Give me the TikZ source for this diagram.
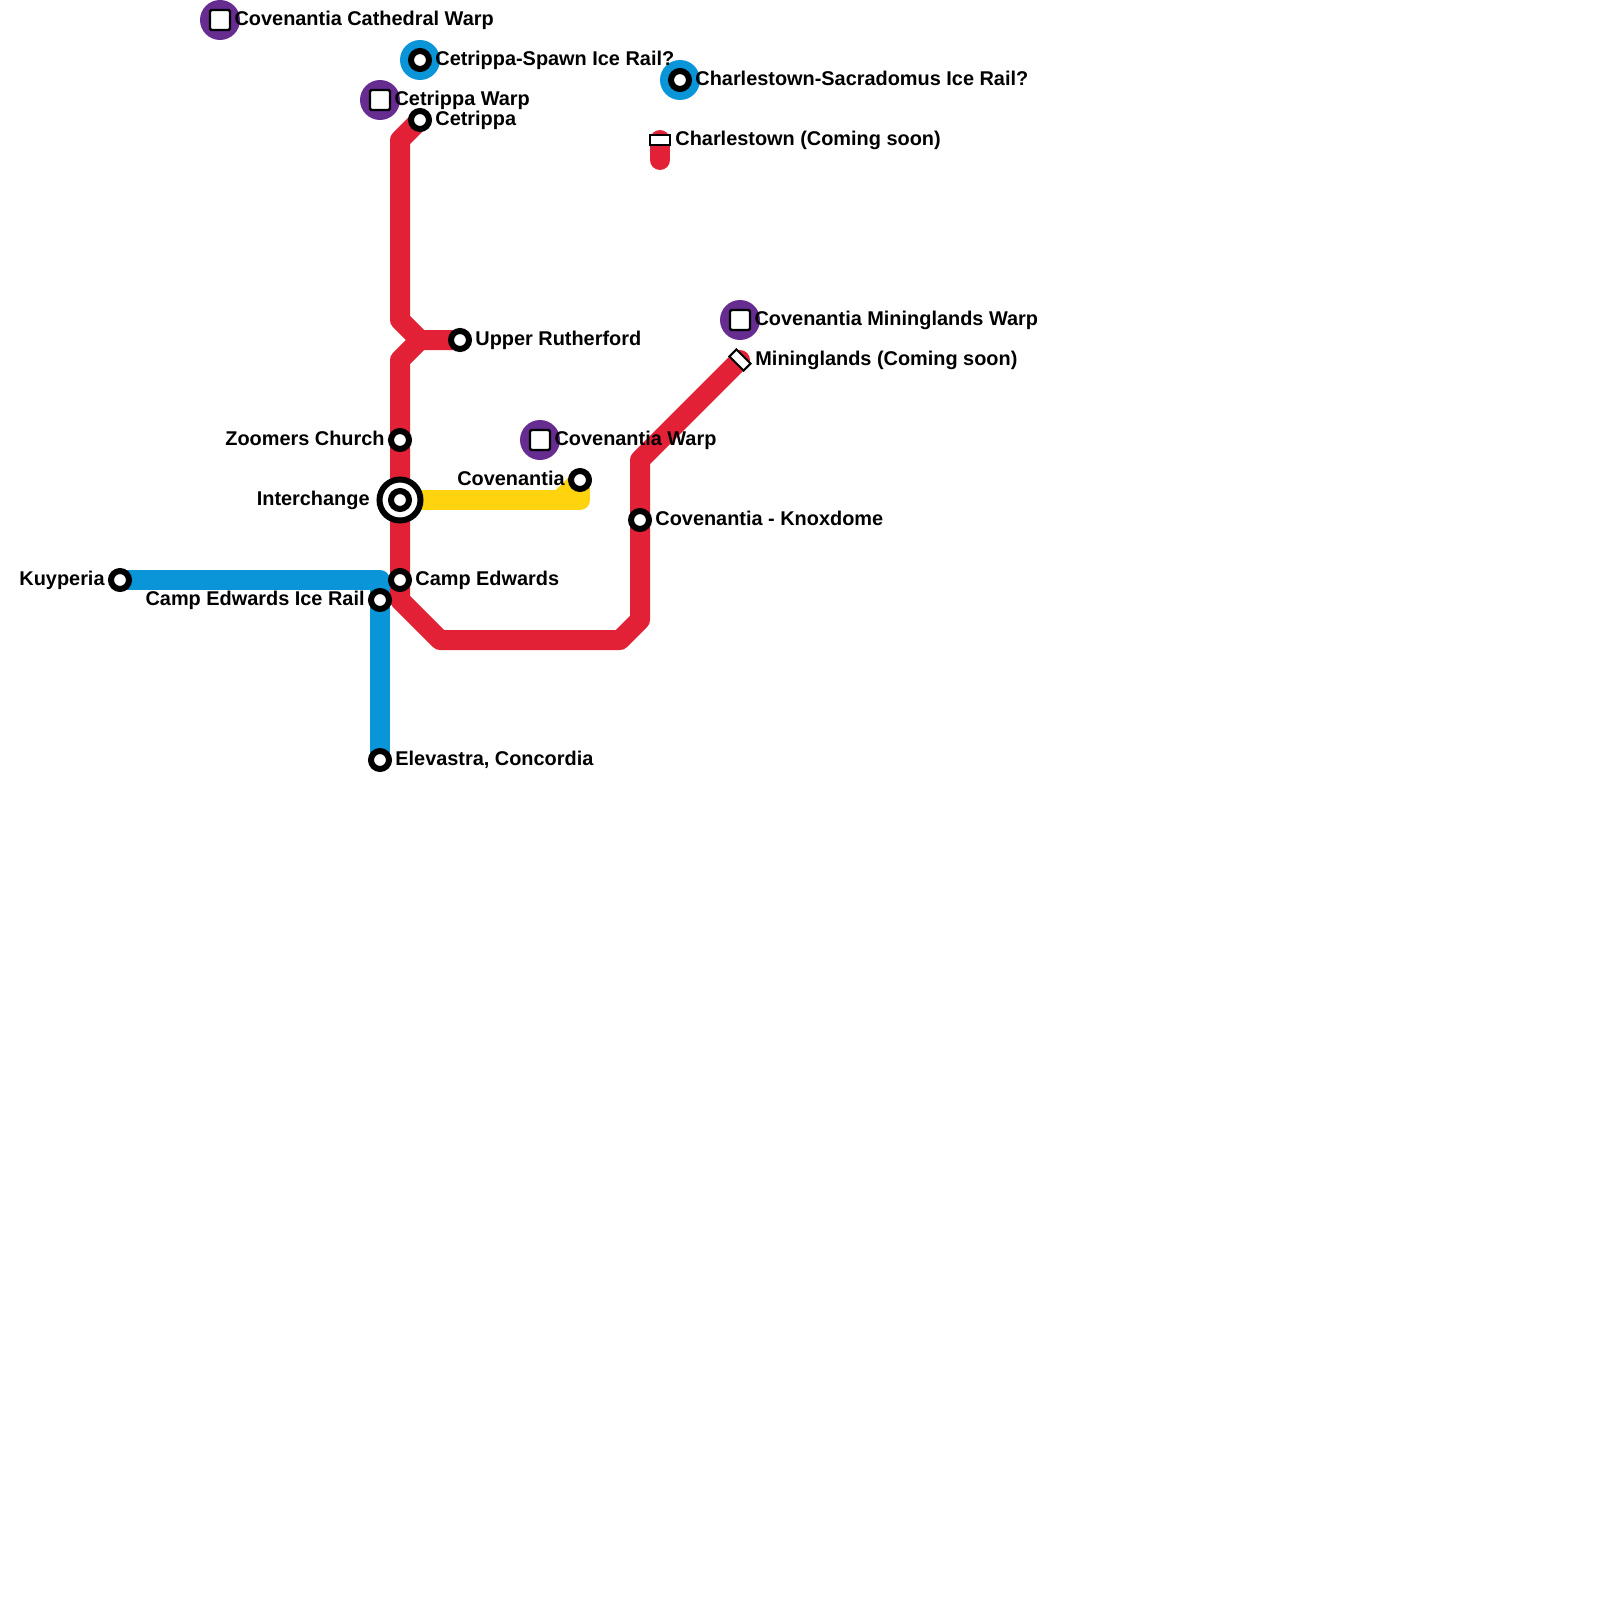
\documentclass[tikz,border=0pt]{standalone}
\usepackage{fontspec}
\setmainfont{Liberation Sans}
\usetikzlibrary{positioning,backgrounds}

\definecolor{linered}{HTML}{E32136}
\definecolor{lineblue}{HTML}{0A95D8}
\definecolor{lineyellow}{HTML}{FFD30E}
\definecolor{warppurple}{HTML}{662C90}

\begin{document}
\begin{tikzpicture}[x=0.5pt, y=-0.5pt, node distance=1.5pt,
	station/.style={circle, draw=black, fill=white, line width=3pt, inner sep=0pt, minimum size=9pt},
	hub/.style={circle, draw=black, fill=white, line width=3pt, inner sep=0pt, minimum size=20.5pt},
	disc/.style={circle, inner sep=0pt, minimum size=20pt},
	warp/.style={rectangle, rounded corners=1pt, draw=black, fill=white, line width=1.2pt, inner sep=0pt, minimum size=10pt},
	closed/.style={rectangle, draw=black, fill=white, line width=1pt, inner sep=0pt, minimum width=10pt, minimum height=5pt},
	tag/.style={font=\fontsize{9.95}{12}\selectfont\bfseries, inner sep=0pt, text height=7.2pt, text depth=2pt},
	track/.style={line width=10pt, line join=round}]
\useasboundingbox (0,0) rectangle (1600,1600);

% discs
\node[disc, fill=warppurple] (cathedralDisc) at (220,20) {};
\node[disc, fill=warppurple] (cetrippaDisc) at (380,100) {};
\node[disc, fill=warppurple] (covenantiaDisc) at (540,440) {};
\node[disc, fill=warppurple] (mininglandsDisc) at (740,320) {};
\node[disc, fill=lineblue] (spawnDisc) at (420,60) {};
\node[disc, fill=lineblue] (sacradomusDisc) at (680,80) {};

% warps
\node[warp] (cathedralWarp) at (cathedralDisc) {};
\node[warp] (cetrippaWarp) at (cetrippaDisc) {};
\node[warp] (covenantiaWarp) at (covenantiaDisc) {};
\node[warp] (mininglandsWarp) at (mininglandsDisc) {};

% stations
\node[station] (spawn) at (spawnDisc) {};
\node[station] (sacradomus) at (sacradomusDisc) {};
\node[station] (cetrippa) at (420,120) {};
\node[station] (rutherford) at (460,340) {};
\node[station] (zoomers) at (400,440) {};
\node[hub] (interchange) at (400,500) {};
\node[station] (interchangeCore) at (interchange) {};
\node[station] (covenantia) at (580,480) {};
\node[station] (knoxdome) at (640,520) {};
\node[station] (campEdwards) at (400,580) {};
\node[station] (campRail) at (380,600) {};
\node[station] (kuyperia) at (120,580) {};
\node[station] (elevastra) at (380,760) {};
\node[closed] (charlestown) at (660,140) {};
\node[closed, rotate=-45] (mininglands) at (740,360) {};

% bends
\coordinate (cetrippaBend) at (400,140);
\coordinate (forkTop) at (400,320);
\coordinate (fork) at (420,340);
\coordinate (forkBottom) at (400,360);
\coordinate (southBend) at (400,600);
\coordinate (southWest) at (440,640);
\coordinate (southEast) at (620,640);
\coordinate (eastBend) at (640,620);
\coordinate (eastTop) at (640,460);
\coordinate (charlestownEnd) at (660,160);
\coordinate (campCorner) at (380,580);
\coordinate (yellowCorner) at (580,500);
\coordinate (yellowBend) at (560,500);

% lines
\begin{scope}[on background layer]
	\draw[track, lineblue] (kuyperia.center) -- (campCorner) -- (campRail.center) -- (elevastra.center);
	\draw[track, linered] (cetrippa.center) -- (cetrippaBend) -- (forkTop) -- (fork) -- (rutherford.center);
	\draw[track, linered] (fork) -- (forkBottom) -- (zoomers.center) -- (interchange.center) -- (campEdwards.center) -- (southBend) -- (southWest) -- (southEast) -- (eastBend) -- (knoxdome.center) -- (eastTop) -- (mininglands.center);
	\draw[track, linered, line cap=round] (charlestown.center) -- (charlestownEnd);
	\fill[linered] (mininglands.center) circle (5pt);
	\draw[track, lineyellow] (interchange.center) -- (yellowCorner) -- (covenantia.center);
	\draw[track, lineyellow] (yellowBend) -- (covenantia.center);
\end{scope}

% labels
\node[tag, right=of cathedralWarp] (cathedralTag) {Covenantia Cathedral Warp};
\node[tag, right=of cetrippaWarp] (cetrippaWarpTag) {Cetrippa Warp};
\node[tag, right=of covenantiaWarp] (covenantiaWarpTag) {Covenantia Warp};
\node[tag, right=of mininglandsWarp] (mininglandsWarpTag) {Covenantia Mininglands Warp};
\node[tag, right=of spawn] (spawnTag) {Cetrippa-Spawn Ice Rail?};
\node[tag, right=of sacradomus] (sacradomusTag) {Charlestown-Sacradomus Ice Rail?};
\node[tag, right=of cetrippa] (cetrippaTag) {Cetrippa};
\node[tag, right=of rutherford] (rutherfordTag) {Upper Rutherford};
\node[tag, right=of knoxdome] (knoxdomeTag) {Covenantia - Knoxdome};
\node[tag, right=of campEdwards] (campEdwardsTag) {Camp Edwards};
\node[tag, right=of elevastra] (elevastraTag) {Elevastra, Concordia};
\node[tag, left=of zoomers] (zoomersTag) {Zoomers Church};
\node[tag, left=of covenantia] (covenantiaTag) {Covenantia};
\node[tag, left=of kuyperia] (kuyperiaTag) {Kuyperia};
\node[tag, left=of campRail] (campRailTag) {Camp Edwards Ice Rail};
\node[tag, left=3.25pt of interchange] (interchangeTag) {Interchange};
\node[tag, right=7.5pt of charlestown.center] (charlestownTag) {Charlestown (Coming soon)};
\node[tag, right=7.5pt of mininglands.center] (mininglandsTag) {Mininglands (Coming soon)};
\end{tikzpicture}
\end{document}
